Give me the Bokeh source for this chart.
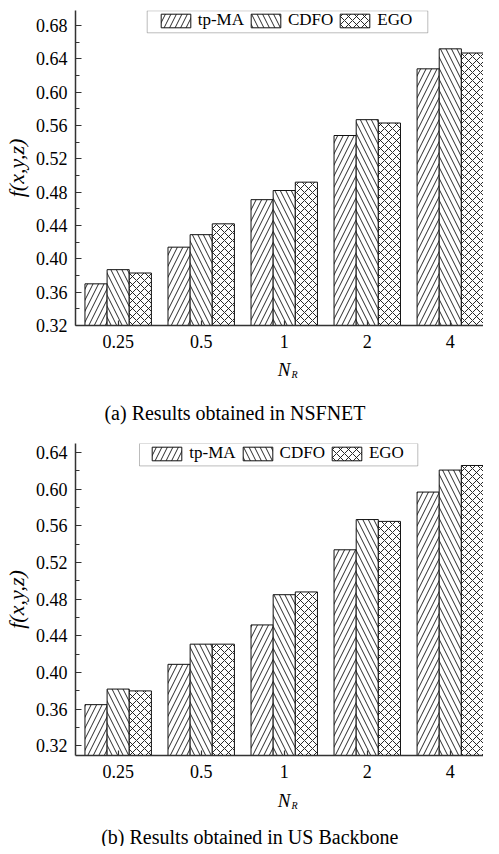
from bokeh.plotting import figure
from bokeh.models import (Range1d, FixedTicker, NumeralTickFormatter, Legend, LegendItem,
                          BoxAnnotation, Label, ColumnDataSource)
from bokeh.transform import dodge
from bokeh.layouts import column
from bokeh.embed import file_html
from bokeh.resources import INLINE

# ---------------- data ----------------
categories = ["0.25", "0.5", "1", "2", "4"]
series_names = ["tp-MA", "CDFO", "EGO"]

nsfnet_tpma = [0.370, 0.414, 0.471, 0.548, 0.628]
nsfnet_cdfo = [0.387, 0.429, 0.482, 0.567, 0.652]
nsfnet_ego = [0.383, 0.442, 0.492, 0.563, 0.647]

usb_tpma = [0.365, 0.409, 0.452, 0.534, 0.597]
usb_cdfo = [0.382, 0.431, 0.485, 0.567, 0.621]
usb_ego = [0.380, 0.431, 0.488, 0.565, 0.626]

yticks_a = [0.32, 0.36, 0.40, 0.44, 0.48, 0.52, 0.56, 0.60, 0.64, 0.68]
yminor_a = [0.34, 0.38, 0.42, 0.46, 0.50, 0.54, 0.58, 0.62, 0.66]
yticks_b = [0.32, 0.36, 0.40, 0.44, 0.48, 0.52, 0.56, 0.60, 0.64]
yminor_b = [0.34, 0.38, 0.42, 0.46, 0.50, 0.54, 0.58, 0.62]

x_title_main = "N"
x_title_sub = "R"
y_title = "f(x,y,z)"
caption_a = "(a) Results obtained in NSFNET"
caption_b = "(b) Results obtained in US Backbone"

FONT = "Liberation Serif"
HATCHES = ["/", "\\", "x"]
HATCH_SCALES = [11, 11, 8]
BAR_W = 0.2667
OFFSETS = [-BAR_W, 0.0, BAR_W]
W = 483
LEFT = 68


def make_chart(vals, y0, y1, yticks, yminor, height, btop, bbottom, legend_loc, box):
    p = figure(width=W, height=height, output_backend="svg", toolbar_location=None,
               x_range=Range1d(-0.514, 4.40), y_range=Range1d(y0, y1),
               min_border_left=LEFT, min_border_right=0, min_border_top=btop,
               min_border_bottom=bbottom)
    p.outline_line_color = None
    p.xgrid.visible = False
    p.ygrid.visible = False
    p.background_fill_color = "white"
    p.border_fill_color = "white"

    src = ColumnDataSource(dict(x=list(range(len(categories))),
                                s0=vals[0], s1=vals[1], s2=vals[2]))
    items = []
    for i, name in enumerate(series_names):
        r = p.vbar(x=dodge("x", OFFSETS[i], range=p.x_range), top="s%d" % i, bottom=0,
                   width=BAR_W, source=src, fill_color="white", line_color="#111111",
                   line_width=1, hatch_pattern=HATCHES[i], hatch_color="#111111",
                   hatch_scale=HATCH_SCALES[i], hatch_weight=0.9)
        items.append(LegendItem(label=name, renderers=[r]))

    xa = p.xaxis[0]
    xa.ticker = FixedTicker(ticks=list(range(len(categories))))
    xa.major_label_overrides = {i: c for i, c in enumerate(categories)}
    xa.major_tick_in = 5
    xa.major_tick_out = 0
    xa.minor_tick_in = 0
    xa.minor_tick_out = 0
    xa.axis_line_width = 1.5
    xa.axis_line_color = "#333333"
    xa.major_tick_line_color = "#333333"
    xa.major_tick_line_width = 1.2
    xa.major_label_text_font = FONT
    xa.major_label_text_font_size = "18px"
    xa.major_label_text_color = "black"
    xa.major_label_standoff = 9

    ya = p.yaxis[0]
    ya.ticker = FixedTicker(ticks=yticks, minor_ticks=yminor)
    ya.formatter = NumeralTickFormatter(format="0.00")
    ya.major_tick_in = 6
    ya.major_tick_out = 0
    ya.minor_tick_in = 4
    ya.minor_tick_out = 0
    ya.axis_line_width = 1.5
    ya.axis_line_color = "#333333"
    ya.major_tick_line_color = "#333333"
    ya.minor_tick_line_color = "#333333"
    ya.major_tick_line_width = 1.2
    ya.major_label_text_font = FONT
    ya.major_label_text_font_size = "18px"
    ya.major_label_text_color = "black"
    ya.major_label_standoff = 8
    ya.axis_label = y_title
    ya.axis_label_text_font = FONT
    ya.axis_label_text_font_style = "italic"
    ya.axis_label_text_font_size = "22px"
    ya.axis_label_text_color = "black"
    ya.axis_label_standoff = 4

    lg = Legend(items=items, orientation="horizontal", location=legend_loc,
                padding=0, spacing=3, margin=0, border_line_alpha=0,
                background_fill_alpha=0, glyph_width=37, glyph_height=17,
                label_standoff=4, label_height=17, label_text_font=FONT,
                label_text_font_size="17px", label_text_color="black")
    p.add_layout(lg)
    p.add_layout(BoxAnnotation(left=box[0], right=box[1], top=box[2], bottom=box[3],
                               left_units="screen", right_units="screen",
                               top_units="screen", bottom_units="screen",
                               fill_alpha=0, line_color="#222222", line_width=1))
    return p


def make_caption(height, n_y, r_y, cap_x, cap_y, caption):
    c = figure(width=W, height=height, output_backend="svg", toolbar_location=None,
               x_range=Range1d(0, 1), y_range=Range1d(0, 1),
               x_axis_type=None, y_axis_type=None, min_border=0,
               min_border_left=LEFT, min_border_right=0,
               min_border_top=0, min_border_bottom=0)
    c.outline_line_color = None
    c.xgrid.visible = False
    c.ygrid.visible = False
    c.add_layout(Label(x=208.5, y=n_y, x_units="screen", y_units="screen", text=x_title_main,
                       text_font=FONT, text_font_style="italic", text_font_size="19px",
                       text_align="center", text_baseline="alphabetic", text_color="black"))
    c.add_layout(Label(x=216, y=r_y, x_units="screen", y_units="screen", text=x_title_sub,
                       text_font=FONT, text_font_style="italic", text_font_size="10px",
                       text_align="left", text_baseline="alphabetic", text_color="black"))
    c.add_layout(Label(x=cap_x, y=cap_y, x_units="screen", y_units="screen", text=caption,
                       text_font=FONT, text_font_size="20px", text_align="center",
                       text_baseline="alphabetic", text_color="black"))
    return c


p1 = make_chart([nsfnet_tpma, nsfnet_cdfo, nsfnet_ego], 0.32, 0.698, yticks_a, yminor_a,
                358, 10, 33, (81.7, 295), (71.7, 352.3, 314.7, 292.7))
c1 = make_caption(70, 59.3, 54.3, 159.5, 16, caption_a)
p2 = make_chart([usb_tpma, usb_cdfo, usb_ego], 0.3095, 0.65, yticks_b, yminor_b,
                360, 15, 33, (73.3, 292), (64, 342.3, 312, 289.6))
c2 = make_caption(58, 46, 41, 174.3, 10, caption_b)

layout = column(p1, c1, p2, c2, spacing=0)
open("out.html", "w").write(file_html(layout, INLINE))
